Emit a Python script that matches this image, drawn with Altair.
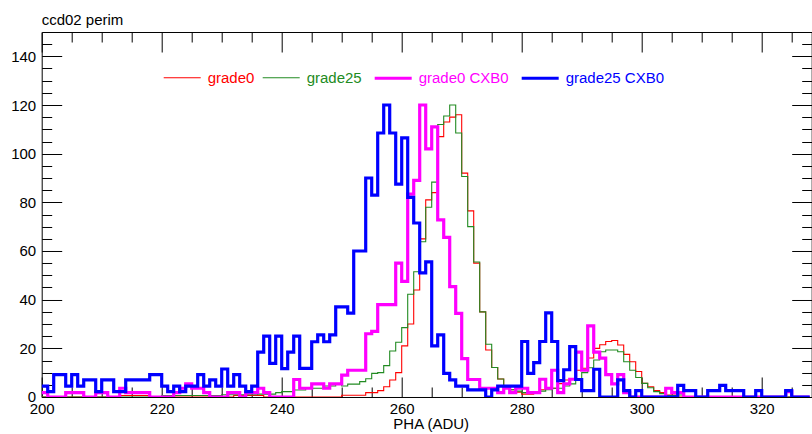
import altair as alt
import pandas as pd

# PHA bins (ADU), one bin per ADU, 200 .. 327
bins = list(range(200, 328))

grade0 = [
    0, 0, 0, 0, 0, 0, 0, 0, 0, 0,
    0, 0, 0, 0.6, 0.6, 0.6, 0.6, 0.6, 0, 0,
    0, 0, 0, 0, 0, 0, 0, 0, 0, 0,
    0, 0, 0.6, 0.6, 0.6, 0.6, 0.6, 0, 0, 0,
    0, 0, 0, 0, 0, 0, 0, 0, 0, 0,
    0.7, 0.7, 0.7, 0.7, 1.8, 1.8, 2.6, 4.2, 7, 10,
    21, 30, 44, 65, 81, 84, 107, 113, 115, 116,
    92, 76.5, 55, 35, 19.3, 12.1, 7.4, 4.5, 3, 2,
    1.2, 1.2, 1.8, 3, 3.6, 3.6, 5.5, 7, 7.5, 11,
    11.8, 16, 20, 21.5, 22.8, 23.2, 21.4, 17.5, 14.5, 10.5,
    5.6, 4.2, 2.6, 1.8, 0.8, 0.8, 0, 0, 0, 0,
    0, 0, 0, 0, 0, 0, 0, 0, 0, 0,
    0, 0, 0, 0, 0, 0, 0, 0,
]

grade25 = [
    0, 0, 0, 0, 0, 0, 0, 0, 0, 0,
    0, 0, 0, 0, 0, 0, 0, 0, 0, 0,
    0.6, 0.6, 0.6, 0.6, 0.6, 0.6, 0.6, 0.6, 0.6, 0.6,
    0.9, 0.9, 0.9, 0.9, 0.9, 0.9, 1.2, 1.2, 1.2, 1.8,
    2.2, 2.2, 2.9, 2.9, 3.6, 3.6, 3.6, 4.5, 4.5, 5.3,
    4.5, 5.3, 5.3, 6.3, 7.5, 9.7, 10, 12.9, 18.9, 22.5,
    28.5, 42.2, 51.5, 63.8, 78, 88.3, 112, 115.5, 120, 108.5,
    90.6, 70, 55.5, 35, 21.7, 12.1, 7.4, 4.5, 3, 2.4,
    1.8, 1.8, 1.8, 2.4, 3, 3.6, 3.6, 4.5, 5.4, 7,
    10, 12, 15.2, 18.6, 19.3, 19.3, 18.6, 14.5, 11, 8,
    5.6, 3.8, 2.2, 1.4, 0.6, 0.6, 0.8, 0, 0, 0,
    0, 0, 0, 0, 0, 0, 0, 0, 0, 0,
    0, 0, 0, 0, 0, 0, 0, 0,
]

grade0_cxb0 = [
    1.8, 0, 0, 0, 1.8, 1.8, 1.8, 0, 0, 1.8,
    1.8, 0, 0, 3.6, 1.8, 1.8, 1.8, 1.8, 0, 0,
    0, 0, 1.8, 3.6, 5.4, 3.6, 3.6, 1.8, 0, 0,
    0, 1.8, 1.8, 0, 1.8, 1.8, 3.6, 1.8, 0, 0,
    0, 0, 7.2, 3.6, 3.6, 5.4, 5.4, 3.6, 5.4, 5.4,
    9, 11, 11, 11, 26, 27, 38, 38, 38, 55,
    47.5, 83.4, 89, 120, 102, 111, 72.8, 65.6, 45.4, 34.4,
    15.8, 7.2, 7.2, 3.6, 3.6, 3.6, 1.8, 3.6, 1.8, 3.6,
    3.6, 1.8, 1.8, 7.3, 3.6, 11, 1.8, 5.4, 7.3, 18.4,
    11, 29.2, 18.4, 16, 9.2, 5.4, 9.2, 1.8, 0, 0,
    0, 0, 0, 0, 3.6, 1.8, 1.8, 0, 0, 0,
    0, 0, 0, 0, 0, 0, 0, 0, 0, 0,
    0, 0, 0, 0, 2.2, 0, 0, 0,
]

grade25_cxb0 = [
    4.5, 2.2, 9.2, 9.2, 4.5, 9.2, 4.5, 7, 7, 2.2,
    7, 7, 2.2, 2.2, 7, 7, 7, 7, 9.2, 9.2,
    4.5, 2.2, 4.5, 2.2, 4.5, 4.5, 9.2, 4.5, 7, 4.5,
    11.5, 4.5, 9.2, 4.5, 2.2, 4.5, 18.4, 25, 13.8, 25,
    11.7, 18.4, 25, 11.8, 11.8, 22.7, 25.5, 22.7, 25.5, 37,
    37, 34.5, 60, 60, 90, 83, 108.5, 120, 108.5, 87.5,
    106.5, 82, 71.5, 51, 55.5, 21, 25.5, 9.7, 7, 4.5,
    4.5, 2.9, 2.9, 2.9, 0, 2.9, 4.5, 4.5, 4.5, 4.5,
    22.8, 9.7, 14.1, 22.8, 34.6, 22.8, 6.7, 11.2, 20.7, 7.2,
    2.6, 2.6, 11.4, 0, 0, 0, 7, 2.6, 0, 2.6,
    0, 0, 0, 0, 0, 0, 4.8, 2.6, 2.6, 0,
    0, 2.6, 2.6, 4.8, 2.6, 2.6, 2.6, 0, 0, 2.6,
    0, 0, 0, 0, 2.6, 0, 0, 0,
]

series_names = ["grade0", "grade25", "grade0 CXB0", "grade25 CXB0"]
series_values = [grade0, grade25, grade0_cxb0, grade25_cxb0]
series_colors = ["#ff0000", "#228b22", "#ff00ff", "#0000ff"]
series_widths = [1.1, 1.1, 3.2, 3.2]

x_major = [200, 220, 240, 260, 280, 300, 320]
x_minor = [205, 210, 215, 225, 230, 235, 245, 250, 255, 265, 270, 275,
           285, 290, 295, 305, 310, 315, 325]
y_major = [0, 20, 40, 60, 80, 100, 120, 140]
y_minor = [5, 10, 15, 25, 30, 35, 45, 50, 55, 65, 70, 75, 85, 90, 95,
           105, 110, 115, 125, 130, 135, 145]

rows = []
for name, vals in zip(series_names, series_values):
    for b, v in zip(bins, vals):
        rows.append({"pha": b, "count": v, "series": name})
    rows.append({"pha": bins[-1] + 1, "count": vals[-1], "series": name})
df = pd.DataFrame(rows)
anchor = pd.DataFrame({"pha": [200], "count": [0]})

W, H = 770, 365
FONT = "Liberation Sans"
xs = alt.Scale(domain=[200, 328.33], nice=False, zero=False)
ys = alt.Scale(domain=[0, 150], nice=False, zero=False)

label_color_expr = ""
for n, c in zip(series_names, series_colors):
    label_color_expr += f"datum.value === '{n}' ? '{c}' : "
label_color_expr += "'black'"

leg = alt.Legend(
    title=None, orient="none", legendX=120, legendY=25.5,
    direction="horizontal", columns=4, symbolType="stroke", symbolSize=1369,
    labelFont=FONT, labelFontSize=15, labelOffset=5, columnPadding=5, padding=0,
    labelColor=alt.ExprRef(label_color_expr),
)


def series_layer(name):
    return (
        alt.Chart(df)
        .transform_filter(alt.datum.series == name)
        .mark_line(interpolate="step-after", clip=True)
        .encode(
            x=alt.X("pha:Q", scale=xs, axis=None),
            y=alt.Y("count:Q", scale=ys, axis=None),
            color=alt.Color("series:N", scale=alt.Scale(domain=series_names, range=series_colors), legend=leg),
            strokeWidth=alt.StrokeWidth(
                "series:N",
                scale=alt.Scale(type="ordinal", domain=series_names, range=series_widths),
                legend=leg,
            ),
        )
    )


labels_layer = alt.Chart(anchor).mark_point(opacity=0).encode(
    x=alt.X("pha:Q", scale=xs, axis=alt.Axis(
        orient="bottom", values=x_major, ticks=False, tickSize=0, domain=False, grid=False,
        labelFlush=False, labelOverlap=False, labelPadding=5, labelFont=FONT, labelFontSize=15,
        labelColor="black", title="PHA (ADU)", titleFont=FONT, titleFontSize=15,
        titleFontWeight="normal", titleColor="black", titleX=389, titleY=31.5,
        titleBaseline="alphabetic")),
    y=alt.Y("count:Q", scale=ys, axis=alt.Axis(
        orient="left", values=y_major, ticks=False, tickSize=0, domain=False, grid=False,
        labelFlush=False, labelOverlap=False, labelPadding=6, labelFont=FONT, labelFontSize=15,
        labelColor="black", title=None)),
)


def tick_layer(xorient, yorient, xvals, yvals, size):
    return alt.Chart(anchor).mark_point(opacity=0).encode(
        x=alt.X("pha:Q", scale=xs, axis=alt.Axis(
            orient=xorient, offset=-H, values=xvals, tickSize=size, labels=False,
            domain=False, grid=False, title=None, tickColor="black", tickWidth=1)),
        y=alt.Y("count:Q", scale=ys, axis=alt.Axis(
            orient=yorient, offset=-W, values=yvals, tickSize=size, labels=False,
            domain=False, grid=False, title=None, tickColor="black", tickWidth=1)),
    )


layers = [
    labels_layer,
    tick_layer("top", "right", x_major, y_major, 20),
    tick_layer("top", "right", x_minor, y_minor, 10),
    tick_layer("bottom", "left", x_major, y_major, 20),
    tick_layer("bottom", "left", x_minor, y_minor, 10),
] + [series_layer(n) for n in series_names]

chart = (
    alt.layer(*layers)
    .resolve_axis(x="independent", y="independent")
    .properties(
        width=W, height=H,
        title=alt.TitleParams("ccd02 perim", anchor="start", frame="group", fontSize=15,
                              font=FONT, fontWeight="normal", color="black", offset=12,
                              dy=20, baseline="alphabetic"),
        autosize=alt.AutoSizeParams(type="none"),
        padding={"left": 41.7, "top": 32, "right": 0, "bottom": 37},
    )
    .configure_view(stroke="black", strokeWidth=1)
)

chart.save("out.html", embed_options={"renderer": "svg", "actions": False})
